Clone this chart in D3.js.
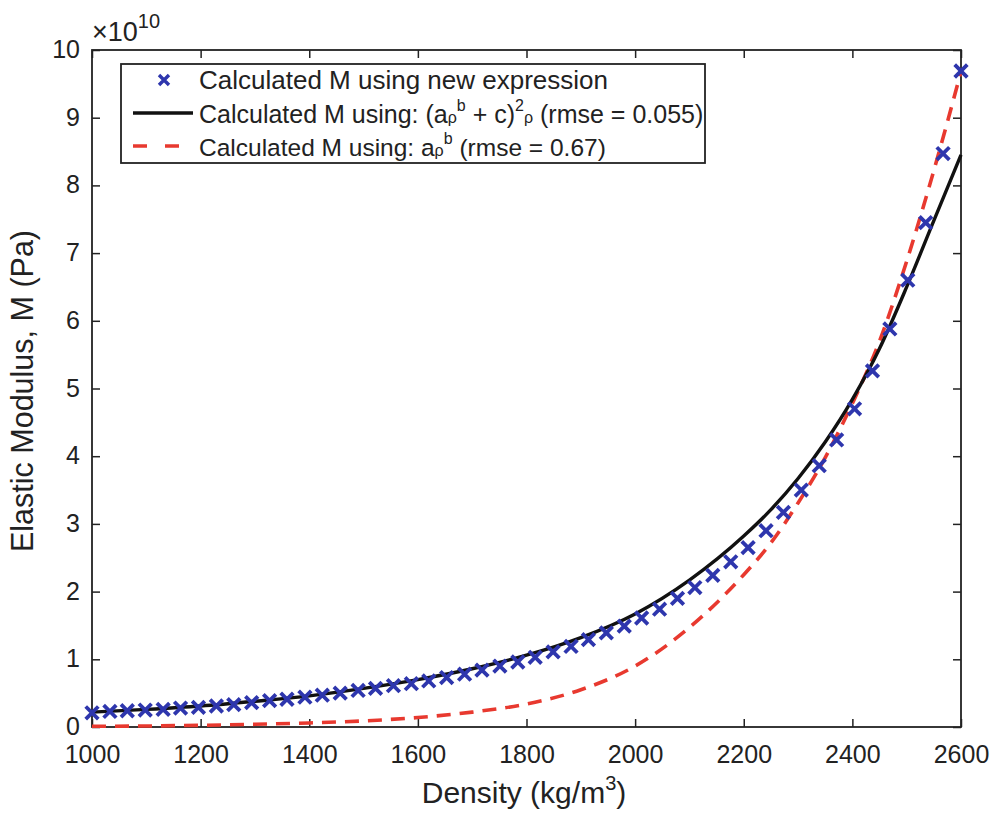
<!DOCTYPE html>
<html>
<head>
<meta charset="utf-8">
<script src="https://cdn.jsdelivr.net/npm/d3@7"></script>
<style>
  body { margin: 0; background: #fff; }
  text { font-family: "Liberation Sans", Arial, sans-serif; fill: #222; }
</style>
</head>
<body>
<svg id="chart" width="996" height="814"></svg>
<script>
// densities (kg/m3) of the calculated points
const density = [1000, 1033, 1065, 1098, 1131, 1163, 1196, 1229, 1261, 1294,
  1327, 1359, 1392, 1424, 1457, 1490, 1522, 1555, 1588, 1620,
  1653, 1686, 1718, 1751, 1784, 1816, 1849, 1882, 1914, 1947,
  1980, 2012, 2045, 2078, 2110, 2143, 2176, 2208, 2241, 2273,
  2306, 2339, 2371, 2404, 2437, 2469, 2502, 2535, 2567, 2600]
// M from the new expression (x 1e10 Pa)
const newExpr = [0.21, 0.23, 0.24, 0.25, 0.26, 0.28, 0.29, 0.31, 0.33, 0.36,
  0.39, 0.41, 0.44, 0.47, 0.50, 0.54, 0.57, 0.61, 0.64, 0.68,
  0.73, 0.78, 0.84, 0.90, 0.96, 1.03, 1.11, 1.19, 1.29, 1.39,
  1.49, 1.61, 1.74, 1.90, 2.06, 2.24, 2.44, 2.65, 2.90, 3.17,
  3.50, 3.86, 4.24, 4.70, 5.26, 5.88, 6.60, 7.45, 8.47, 9.69]

// densities where the fitted curves were read
const fitDensity = [1000, 1100, 1200, 1300, 1400, 1500, 1600, 1700, 1800, 1900,
  2000, 2100, 2200, 2250, 2300, 2350, 2400, 2450, 2500, 2550, 2600]
// (a rho^b + c)^2 rho fit
const fitFull = [0.22, 0.26, 0.31, 0.38, 0.46, 0.57, 0.70, 0.86, 1.06, 1.32,
  1.67, 2.17, 2.82, 3.21, 3.67, 4.21, 4.84, 5.59, 6.50, 7.48, 8.45]
// a rho^b fit
const fitPower = [0.01, 0.015, 0.025, 0.04, 0.06, 0.09, 0.14, 0.22, 0.34, 0.55,
  0.90, 1.47, 2.25, 2.72, 3.31, 3.98, 4.78, 5.70, 6.88, 8.22, 9.68]

const xTicks = [1000, 1200, 1400, 1600, 1800, 2000, 2200, 2400, 2600]
const yTicks = [0, 1, 2, 3, 4, 5, 6, 7, 8, 9, 10]

const blue = "#2e36ad"
const red = "#e8392f"

const svg = d3.select("#chart")
svg.append("rect").attr("width", 996).attr("height", 814).attr("fill", "#fff")

const x = d3.scaleLinear().domain([1000, 2600]).range([92, 961])
const y = d3.scaleLinear().domain([0, 10]).range([727, 50])

// axes with inward ticks, like a matlab box
const axisStyle = g => {
  g.select(".domain").remove()
  g.selectAll("line").attr("stroke", "#222").attr("stroke-width", 1.5)
  g.selectAll("text").style("font-size", "25px").attr("fill", "#222")
}

svg.append("g")
  .attr("transform", "translate(0,727)")
  .call(d3.axisBottom(x).tickValues(xTicks).tickSize(-8).tickPadding(18).tickFormat(d3.format("d")))
  .call(axisStyle)
  .selectAll("text").attr("dy", "0.71em")

svg.append("g")
  .attr("transform", "translate(0,50)")
  .call(d3.axisTop(x).tickValues(xTicks).tickSize(-8).tickFormat(""))
  .call(axisStyle)

svg.append("g")
  .attr("transform", "translate(92,0)")
  .call(d3.axisLeft(y).tickValues(yTicks).tickSize(-8).tickPadding(12).tickFormat(d3.format("d")))
  .call(axisStyle)
  .selectAll("text").attr("dy", "0.3em")

svg.append("g")
  .attr("transform", "translate(961,0)")
  .call(d3.axisRight(y).tickValues(yTicks).tickSize(-8).tickFormat(""))
  .call(axisStyle)

svg.append("rect")
  .attr("x", 92).attr("y", 50).attr("width", 961 - 92).attr("height", 727 - 50)
  .attr("fill", "none").attr("stroke", "#222").attr("stroke-width", 1.8)

// exponent label
const expo = svg.append("text").attr("x", 92).attr("y", 41).style("font-size", "27px")
expo.append("tspan").style("font-weight", "300").text("×10")
expo.append("tspan").attr("dy", -13).style("font-size", "20px").text("10")

// fitted curves
const line = d3.line()
  .x((d, i) => x(fitDensity[i]))
  .y(d => y(d))
  .curve(d3.curveMonotoneX)

svg.append("path")
  .datum(fitPower)
  .attr("d", line)
  .attr("fill", "none")
  .attr("stroke", red)
  .attr("stroke-width", 3.6)
  .attr("stroke-dasharray", "14,9")

svg.append("path")
  .datum(fitFull)
  .attr("d", line)
  .attr("fill", "none")
  .attr("stroke", "#111")
  .attr("stroke-width", 3.4)

// x markers
const xMark = s => `M${-s},${-s}L${s},${s}M${-s},${s}L${s},${-s}`
svg.append("g").selectAll("path")
  .data(newExpr)
  .join("path")
  .attr("transform", (d, i) => `translate(${x(density[i])},${y(d)})`)
  .attr("d", xMark(6.3))
  .attr("stroke", blue)
  .attr("stroke-width", 3.8)
  .attr("fill", "none")

// axis titles
const xt = svg.append("text")
  .attr("x", 524).attr("y", 803)
  .attr("text-anchor", "middle")
  .style("font-size", "30px")
xt.append("tspan").text("Density (kg/m")
xt.append("tspan").attr("dy", -13).style("font-size", "20px").text("3")
xt.append("tspan").attr("dy", 13).text(")")

svg.append("text")
  .attr("transform", "translate(33,391) rotate(-90)")
  .attr("text-anchor", "middle")
  .style("font-size", "30.5px")
  .text("Elastic Modulus, M (Pa)")

// legend
const leg = svg.append("g")
leg.append("rect")
  .attr("x", 121).attr("y", 64).attr("width", 705 - 121).attr("height", 99)
  .attr("fill", "#fff").attr("stroke", "#222").attr("stroke-width", 1.8)

leg.append("path")
  .attr("transform", "translate(164,80)")
  .attr("d", xMark(5))
  .attr("stroke", blue).attr("stroke-width", 3.4)

leg.append("line")
  .attr("x1", 133).attr("x2", 193).attr("y1", 113).attr("y2", 113)
  .attr("stroke", "#111").attr("stroke-width", 3.4)

leg.append("line")
  .attr("x1", 133).attr("x2", 193).attr("y1", 146).attr("y2", 146)
  .attr("stroke", red).attr("stroke-width", 3.6).attr("stroke-dasharray", "14,18")

leg.append("text").attr("x", 199).attr("y", 89).style("font-size", "26px")
  .text("Calculated M using new expression")

const t2 = leg.append("text").attr("x", 199).attr("y", 123).style("font-size", "25px")
t2.append("tspan").text("Calculated M using: (a")
t2.append("tspan").style("font-size", "16px").text("ρ")
t2.append("tspan").attr("dy", -12).style("font-size", "16px").text("b")
t2.append("tspan").attr("dy", 12).text(" + c)")
t2.append("tspan").attr("dy", -12).style("font-size", "16px").text("2")
t2.append("tspan").attr("dy", 12).style("font-size", "16px").text("ρ")
t2.append("tspan").text(" (rmse = 0.055)")

const t3 = leg.append("text").attr("x", 199).attr("y", 156).style("font-size", "24.5px")
t3.append("tspan").text("Calculated M using: a")
t3.append("tspan").style("font-size", "16px").text("ρ")
t3.append("tspan").attr("dy", -12).style("font-size", "16px").text("b")
t3.append("tspan").attr("dy", 12).text(" (rmse = 0.67)")
</script>
</body>
</html>
